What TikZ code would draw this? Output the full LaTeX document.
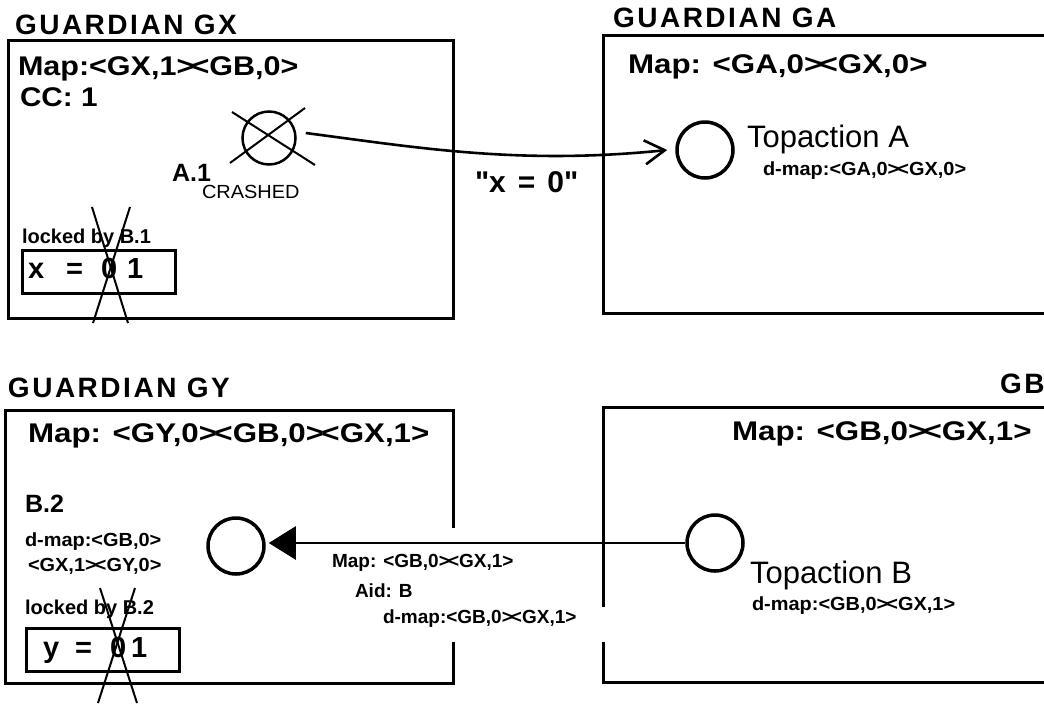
\documentclass[tikz,border=0pt]{standalone}
\usepackage{fontspec}
\setmainfont{Liberation Sans}
\usetikzlibrary{arrows.meta}
\newcommand{\fs}[1]{\fontsize{#1}{#1}\selectfont}
\newcommand{\jn}{>\kern-0.10em<}
\begin{document}
\begin{tikzpicture}[x=1pt,y=-1pt,
  txt/.style={anchor=base west, inner sep=0pt, outer sep=0pt},
  title/.style={txt, font=\fs{28}\bfseries\addfontfeature{LetterSpace=9}},
  bigmap/.style={txt, font=\fs{27}\bfseries\addfontfeature{FakeStretch=1.16}},
  midlab/.style={txt, font=\fs{25}\bfseries},
  small/.style={txt, font=\fs{19}\bfseries\addfontfeature{FakeStretch=1.05}},
  topact/.style={txt, font=\fs{31}},
  frame/.style={line width=3pt, line cap=butt},
  act/.style={circle, draw, line width=3.5pt, minimum size=56pt, inner sep=0pt},
  strike/.style={line width=2pt},
  conn/.style={line width=2.6pt},
  varbox/.style={draw, line width=3pt, inner sep=0pt, minimum width=153pt, minimum height=43pt}]
\useasboundingbox (0,0) rectangle (1044,705);
\clip (0,0) rectangle (1044,705);

% ---------- frames ----------
\draw[frame] (8,40) rectangle (453,318);
\draw[frame] (1050,35) -- (603,35) -- (603,313) -- (1050,313);
\draw[frame] (453,528) -- (453,410) -- (5,410) -- (5,683) -- (453,683) -- (453,642);
\draw[frame] (603,607) -- (603,407) -- (1050,407);
\draw[frame] (603,642) -- (603,682) -- (1050,682);

% ---------- titles ----------
\node[title] (tgx) at (15,34) {GUARDIAN GX};
\node[title] (tga) at (613,27) {GUARDIAN GA};
\node[title] (tgy) at (8,397) {GUARDIAN GY};
\node[title] (tgb) at (1000,393) {GB};

% ---------- guardian GX ----------
\node[txt, font=\fs{27}\bfseries\addfontfeature{FakeStretch=1.13}] (mgx) at (18,75) {Map:<GX,1\jn GB,0>};
\node[txt, font=\fs{27}\bfseries\addfontfeature{FakeStretch=1.1}] (cc) at (20,106) {CC: 1};
\node[act, line width=2.5pt, minimum size=53pt] (a1) at (269,138) {};
\draw[strike] (232,112) -- (315,165);
\draw[strike] (305,108) -- (230,163);
\node[midlab] (la1) at (172,181) {A.1};
\node[txt, font=\fs{19}\addfontfeature{FakeStretch=1.05}] (crash) at (202,198) {CRASHED};
\node[txt, font=\fs{20}\bfseries] (lk1) at (22,243) {locked by B.1};
\node[varbox] (xbox) at (98.5,271.5) {};
\node[txt, font=\fs{29}\bfseries] (xval) at (28,278) {x\hspace{22pt}=\hspace{18pt}0\hspace{10pt}1};
\draw[strike] (92,207) -- (128,323);
\draw[strike] (130,207) -- (93,323);

% ---------- guardian GA ----------
\node[bigmap] (mga) at (628,73) {Map: <GA,0\jn GX,0>};
\node[act] (ta) at (705,150) {};
\node[topact] (lta) at (747,147) {Topaction A};
\node[small] (dma) at (763,175) {d-map:<GA,0\jn GX,0>};

% message A.1 -> Topaction A
\draw[conn, -{Straight Barb[length=20pt,width=24pt,line width=2.6pt]}]
  ([shift={(9,-5)}]a1.east) .. controls (420,148) and (520,165) .. ([xshift=-8pt]ta.west);
\node[txt, font=\fs{30}\bfseries\addfontfeature{Ligatures=TeXOff}] (msgx) at (475,192) {"x\hspace{12pt}=\hspace{12pt}0"};

% ---------- guardian GY ----------
\node[bigmap] (mgy) at (28,442) {Map: <GY,0\jn GB,0\jn GX,1>};
\node[midlab] (lb2) at (25,512) {B.2};
\node[small] (dmb2a) at (25,546) {d-map:<GB,0>};
\node[small] (dmb2b) at (28,571) {<GX,1\jn GY,0>};
\node[txt, font=\fs{20}\bfseries] (lk2) at (25,614) {locked by B.2};
\node[varbox] (ybox) at (102.5,650) {};
\node[txt, font=\fs{29}\bfseries] (yval) at (43,657) {y\hspace{16pt}=\hspace{18pt}0\hspace{5pt}1};
\draw[strike] (100,588) -- (137,703);
\draw[strike] (135,588) -- (98,703);
\node[act] (b2) at (236,546) {};

% ---------- GB ----------
\node[bigmap] (mgb) at (732,440) {Map: <GB,0\jn GX,1>};
\node[act] (tb) at (715,543) {};
\node[topact] (ltb) at (750,583) {Topaction B};
\node[small] (dmb) at (752,610) {d-map:<GB,0\jn GX,1>};

% message Topaction B -> B.2
\draw[conn, -{Triangle[length=27pt,width=33pt]}] (tb.west) -- ([xshift=3pt]tb.west -| b2.east);
\node[txt, font=\fs{19}\bfseries] (mm) at (332,567) {Map: <GB,0\jn GX,1>};
\node[txt, font=\fs{19}\bfseries] (aid) at (355,597) {Aid: B};
\node[txt, font=\fs{19}\bfseries] (mdm) at (383,623) {d-map:<GB,0\jn GX,1>};
\end{tikzpicture}
\end{document}
